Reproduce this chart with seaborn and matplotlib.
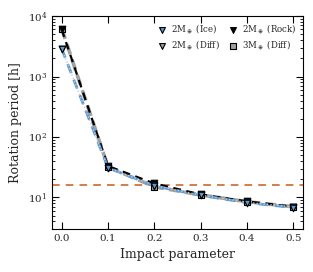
import numpy as np
import pandas as pd
import seaborn as sns
import matplotlib.pyplot as plt

# impact parameter grid and rotation periods [h]
impact = [0.0, 0.1, 0.2, 0.3, 0.4, 0.5]
p_2m_ice = [2900, 31, 15.5, 10.8, 8.2, 6.8]
p_2m_rock = [6000, 33, 17.0, 11.2, 8.6, 7.0]
p_2m_diff = [2900, 31, 15.8, 10.9, 8.3, 6.9]
p_3m_diff = [6200, 32, 15.0, 11.0, 8.5, 7.0]
critical_period = 16.0

sns.set_style("ticks")
plt.rcParams['font.family'] = ['DejaVu Serif']
plt.rcParams['mathtext.fontset'] = 'dejavuserif'

fig = plt.figure(figsize=(3.13, 2.72), dpi=100)
ax = fig.add_axes([0.166, 0.158, 0.802, 0.783])

df = pd.DataFrame({'b': impact, 'ice': p_2m_ice, 'rock': p_2m_rock,
                   'diff2': p_2m_diff, 'diff3': p_3m_diff})

# lines
sns.lineplot(data=df, x='b', y='diff3', ax=ax, color='#a0a0a0', lw=2.6,
             linestyle=(0, (3, 1.5)), zorder=2)
sns.lineplot(data=df, x='b', y='rock', ax=ax, color='black', lw=1.6,
             linestyle=(0, (3.5, 2.5)), zorder=3)
sns.lineplot(data=df, x='b', y='ice', ax=ax, color='#5b9bd5', lw=2.0,
             linestyle=(0, (3.5, 2.5)), zorder=4)
sns.lineplot(data=df, x='b', y='diff2', ax=ax, color='#c8c8c8', lw=1.0,
             linestyle=(0, (1, 1.5)), zorder=5)

# markers
kw = dict(ax=ax, s=22, edgecolor='black', linewidth=0.8, zorder=6)
sns.scatterplot(data=df, x='b', y='diff3', marker='s', color='#a0a0a0',
                label=r'$3\mathrm{M}_\oplus$ (Diff)', **kw)
sns.scatterplot(data=df, x='b', y='rock', marker='v', color='black',
                label=r'$2\mathrm{M}_\oplus$ (Rock)', **kw)
sns.scatterplot(data=df, x='b', y='diff2', marker='v', color='#a0a0a0',
                label=r'$2\mathrm{M}_\oplus$ (Diff)', **kw)
sns.scatterplot(data=df, x='b', y='ice', marker='v', color='#5b9bd5',
                label=r'$2\mathrm{M}_\oplus$ (Ice)', **kw)

ax.axhline(critical_period, color='#cc5a1a', lw=1.1, linestyle=(0, (5, 4)),
           zorder=1)

ax.set_yscale('log')
ax.set_ylim(3, 1e4)
ax.set_xlim(-0.021, 0.521)
ax.set_xticks([0.0, 0.1, 0.2, 0.3, 0.4, 0.5])
ax.set_xlabel('Impact parameter', fontsize=9)
ax.set_ylabel('Rotation period [h]', fontsize=9)
ax.tick_params(which='both', direction='in', top=True, right=True,
               labelsize=7.5, color='black')
ax.tick_params(which='major', length=5, width=0.8)
ax.tick_params(which='minor', length=2.5, width=0.6)
ax.xaxis.set_minor_locator(plt.NullLocator())
for sp in ax.spines.values():
    sp.set_color('black')

handles, labels = ax.get_legend_handles_labels()
order = [labels.index(r'$2\mathrm{M}_\oplus$ (Ice)'),
         labels.index(r'$2\mathrm{M}_\oplus$ (Diff)'),
         labels.index(r'$2\mathrm{M}_\oplus$ (Rock)'),
         labels.index(r'$3\mathrm{M}_\oplus$ (Diff)')]
ax.legend([handles[i] for i in order], [labels[i] for i in order],
          loc='upper right', ncol=2, frameon=False, fontsize=6.2,
          handlelength=1.0, handletextpad=0.5, columnspacing=1.1,
          borderaxespad=0.35, labelspacing=0.3, markerscale=0.9)

fig.savefig('out.png', dpi=100)
